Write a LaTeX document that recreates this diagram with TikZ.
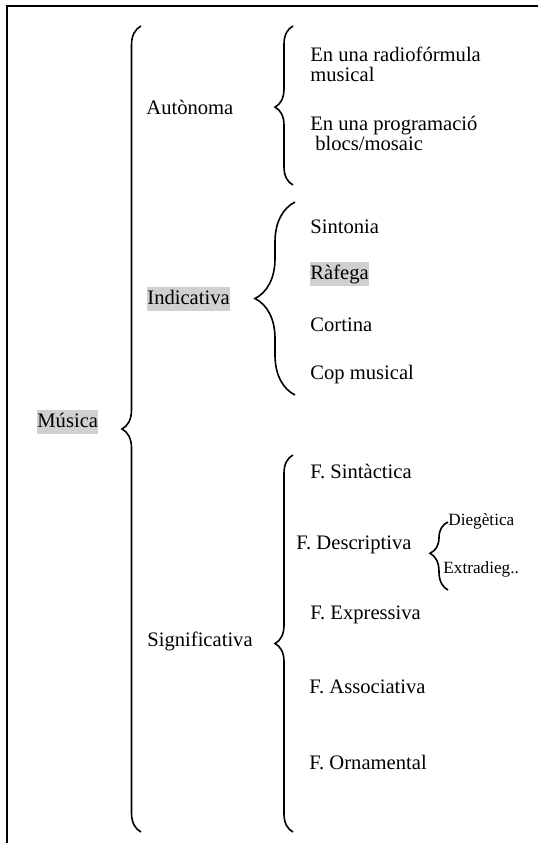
\documentclass[tikz,border=0pt]{standalone}
\usepackage{fontspec}
\setmainfont{Liberation Serif}
\usetikzlibrary{positioning,decorations.pathreplacing}
\definecolor{hlgray}{RGB}{208,208,208}
\newcommand{\lblfont}{\fontsize{10.3pt}{10pt}\selectfont\lineskiplimit=-10pt}
\tikzset{
	every node/.style={anchor=base west, inner xsep=0pt, font=\lblfont},
	hl/.style={fill=hlgray, inner ysep=0pt, text height=8.5pt, text depth=3.5pt},
	small/.style={font=\fontsize{8.6pt}{10pt}\selectfont},
	brc/.style 2 args={draw, line width=0.8pt, decorate, decoration={brace, amplitude=#1, aspect=#2}},
	frame/.style={draw, line width=1pt},
}

\begin{document}
\begin{tikzpicture}[x=0.5pt, y=-0.5pt]
	\useasboundingbox (0,0) rectangle (538,843);
	\path[frame] (538,6) -- (7,6) -- (7,843);

	\node[hl] (musica) at (37,427) {Música};
	\node (autonoma) at (146,114) {Autònoma};
	\node[hl] (indicativa) at (147,304) {Indicativa};
	\node (significativa) at (147,646) {Significativa};

	\node[align=left] (radioformula) at (310,81) {En una radiofórmula\\musical};
	\node[align=left] (programacio) at (310,150) {En una programació\\\hspace*{2.5pt}blocs/mosaic};

	\node (sintonia) at (310,233) {Sintonia};
	\node[hl] (rafega) at (310,279) {Ràfega};
	\node (cortina) at (310,331) {Cortina};
	\node (copmusical) at (310,379) {Cop musical};

	\node (sintactica) at (310,478) {F. Sintàctica};
	\node (descriptiva) at (296,549) {F. Descriptiva};
	\node[small] (diegetica) at (448,525) {Diegètica};
	\node[small] (extradieg) at (443,573) {Extradieg..};
	\node (expressiva) at (310,619) {F. Expressiva};
	\node (associativa) at (309,693) {F. Associativa};
	\node (ornamental) at (309,769) {F. Ornamental};

	\coordinate (musicatop) at (141,26);
	\coordinate (musicabot) at (141,832);
	\coordinate (autonomatop) at (293,26);
	\coordinate (autonomabot) at (293,185);
	\coordinate (indicativatop) at (295,202);
	\coordinate (indicativabot) at (295,395);
	\coordinate (significativatop) at (293,455);
	\coordinate (significativabot) at (293,832);
	\coordinate (descriptivatop) at (448,522);
	\coordinate (descriptivabot) at (448,590);

	\path[brc={9.5pt}{0.5}] (musicabot) -- (musicatop);
	\path[brc={9pt}{0.49}] (autonomabot) -- (autonomatop);
	\path[brc={20pt}{0.5}] (indicativabot) -- (indicativatop);
	\path[brc={9pt}{0.5}] (significativabot) -- (significativatop);
	\path[brc={9pt}{0.54}] (descriptivabot) -- (descriptivatop);
\end{tikzpicture}
\end{document}
